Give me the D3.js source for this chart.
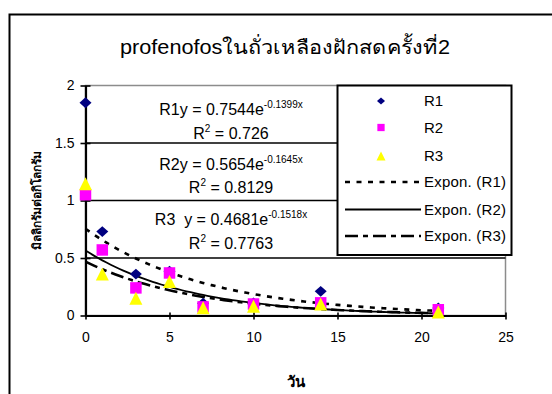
<!DOCTYPE html>
<html>
<head>
<meta charset="utf-8">
<script src="https://cdn.jsdelivr.net/npm/d3@7"></script>
<style>
  body { margin: 0; background: #fff; }
  text { font-family: "Liberation Sans", Arial, sans-serif; white-space: pre; }
</style>
</head>
<body>
<div id="chart"></div>
<script>
// values
var days = [0, 1, 3, 5, 7, 10, 14, 21]
var r1 = [1.85, 0.73, 0.36, 0.385, 0.107, 0.11, 0.21, 0.065]
var r2 = [1.05, 0.57, 0.24, 0.37, 0.075, 0.10, 0.11, 0.05]
var r3 = [1.145, 0.36, 0.15, 0.295, 0.067, 0.08, 0.10, 0.03]
var seriesNames = ['R1', 'R2', 'R3']
// exponential trendlines y = a * e^(b x), as printed on the chart
var trendA = [0.7544, 0.5654, 0.4681]
var trendB = [-0.1399, -0.1645, -0.1518]
var trendR2 = ['0.726', '0.8129', '0.7763']
var xTicks = [0, 5, 10, 15, 20, 25]
var yTicks = [0, 0.5, 1, 1.5, 2]

var W = 552, H = 394
var svg = d3.select('#chart').append('svg')
    .attr('width', W).attr('height', H)

// outer frame
svg.append('rect')
    .attr('x', 9.5).attr('y', 14.5)
    .attr('width', 600).attr('height', 400)
    .attr('fill', '#fff').attr('stroke', '#000').attr('stroke-width', 2)

svg.append('text')
    .attr('x', 120).attr('y', 54)
    .attr('font-size', 19.5)
    .attr('textLength', 330)
    .attr('lengthAdjust', 'spacingAndGlyphs')
    .text('profenofosในถั่วเหลืองฝักสดครั้งที่2')

var plotL = 85.5, plotR = 505.5, plotT = 85.5, plotB = 315.5
var x = d3.scaleLinear().domain([0, 25]).range([plotL, plotR])
var y = d3.scaleLinear().domain([0, 2]).range([plotB, plotT])

// plot area border
svg.append('rect')
    .attr('x', plotL).attr('y', plotT)
    .attr('width', plotR - plotL).attr('height', plotB - plotT)
    .attr('fill', '#fff').attr('stroke', '#8c8c8c').attr('stroke-width', 1.5)

// gridlines
svg.append('g').selectAll('line')
    .data(yTicks.filter(d => d > 0 && d < 2))
    .enter().append('line')
    .attr('x1', plotL).attr('x2', plotR)
    .attr('y1', d => y(d)).attr('y2', d => y(d))
    .attr('stroke', '#000').attr('stroke-width', 1.6)

// axes
var xAxis = svg.append('g')
    .attr('transform', `translate(0, ${plotB})`)
    .call(d3.axisBottom(x).tickValues(xTicks).tickSize(4).tickSizeOuter(0).tickPadding(13))
var yAxis = svg.append('g')
    .attr('transform', `translate(${plotL}, 0)`)
    .call(d3.axisLeft(y).tickValues(yTicks).tickSize(5).tickSizeOuter(0).tickPadding(6).tickFormat(d3.format('')))
;[xAxis, yAxis].forEach(function (g) {
    g.select('.domain').attr('stroke', '#000').attr('stroke-width', 2.2)
    g.selectAll('.tick line').attr('stroke', '#000').attr('stroke-width', 1.6)
    g.selectAll('.tick text')
        .attr('font-family', '"Liberation Sans", Arial, sans-serif')
        .attr('font-size', 14).attr('fill', '#000')
})
xAxis.selectAll('.tick line').attr('y1', -3)
yAxis.selectAll('.tick line').attr('x1', 5)

// axis titles
svg.append('text')
    .attr('x', 296).attr('y', 387)
    .attr('text-anchor', 'middle')
    .attr('font-size', 15).attr('font-weight', 'bold')
    .text('วัน')
svg.append('text')
    .attr('transform', 'translate(41, 200) rotate(-90)')
    .attr('text-anchor', 'middle')
    .attr('font-size', 12).attr('font-weight', 'bold')
    .text('มิลลิกรัมต่อกิโลกรัม')

// trendline equations
var eqY = [115, 170, 225]
var eqY2 = [139, 193, 249]
var eqPrefix = ['R1y = ', 'R2y = ', 'R3  y = ']
eqY.forEach(function (yy, i) {
    var t = svg.append('text')
        .attr('x', 231).attr('y', yy)
        .attr('text-anchor', 'middle')
        .attr('font-size', 16)
    t.append('tspan').text(eqPrefix[i] + trendA[i] + 'e')
    t.append('tspan').attr('dy', -7).attr('font-size', 10).text(trendB[i] + 'x')
    var t2 = svg.append('text')
        .attr('x', 231).attr('y', eqY2[i])
        .attr('text-anchor', 'middle')
        .attr('font-size', 16)
    t2.append('tspan').text('R')
    t2.append('tspan').attr('dy', -7).attr('font-size', 10).text('2')
    t2.append('tspan').attr('dy', 7).text(' = ' + trendR2[i])
})

// trendlines
var trendStyle = [
    {dash: '5,6.5', width: 2.6},
    {dash: null, width: 1.8},
    {dash: '13,5,5,5', width: 2.6}
]
var trendX = d3.range(0, 21.01, 0.25)
var line = d3.line().x(d => x(d[0])).y(d => y(d[1]))
trendA.forEach(function (a, i) {
    svg.append('path')
        .attr('d', line(trendX.map(t => [t, a * Math.exp(trendB[i] * t)])))
        .attr('fill', 'none')
        .attr('stroke', '#000')
        .attr('stroke-width', trendStyle[i].width)
        .attr('stroke-dasharray', trendStyle[i].dash)
})

// marker shapes, size = (box width)^2
var diamond = {draw: function (c, size) {
    var s = Math.sqrt(size) / 2
    c.moveTo(0, -s * 0.9); c.lineTo(s, 0); c.lineTo(0, s * 0.9); c.lineTo(-s, 0); c.closePath()
}}
var square = {draw: function (c, size) {
    var s = Math.sqrt(size) / 2
    c.rect(-s, -s, 2 * s, 2 * s)
}}
var triangle = {draw: function (c, size) {
    var s = Math.sqrt(size) / 2
    c.moveTo(0, -s); c.lineTo(s, s); c.lineTo(-s, s); c.closePath()
}}
var markerColor = ['#000080', '#ff00ff', '#ffff00']
var markerSym = [diamond, square, triangle]
var markerSize = [144, 132, 169]
var legendSize = [64, 53, 81]
;[r1, r2, r3].forEach(function (vals, i) {
    svg.append('g').selectAll('path')
        .data(vals)
        .enter().append('path')
        .attr('transform', (d, j) => `translate(${x(days[j])}, ${y(d)})`)
        .attr('d', d3.symbol().type(markerSym[i]).size(markerSize[i]))
        .attr('fill', markerColor[i])
})

// legend
var lg = svg.append('g')
lg.append('rect')
    .attr('x', 337.5).attr('y', 85.5)
    .attr('width', 174).attr('height', 169.5)
    .attr('fill', '#fff').attr('stroke', '#000').attr('stroke-width', 2)
var rowY = [101, 127.5, 156, 182, 209.5, 236]
seriesNames.forEach(function (name, i) {
    lg.append('path')
        .attr('transform', `translate(381, ${rowY[i]})`)
        .attr('d', d3.symbol().type(markerSym[i]).size(legendSize[i]))
        .attr('fill', markerColor[i])
    lg.append('text')
        .attr('x', 424).attr('y', rowY[i] + 5)
        .attr('font-size', 15)
        .text(name)
    lg.append('line')
        .attr('x1', 345).attr('x2', 421)
        .attr('y1', rowY[i + 3]).attr('y2', rowY[i + 3])
        .attr('stroke', '#000')
        .attr('stroke-width', trendStyle[i].width)
        .attr('stroke-dasharray', trendStyle[i].dash)
    lg.append('text')
        .attr('x', 424).attr('y', rowY[i + 3] + 5)
        .attr('font-size', 15)
        .attr('textLength', 82)
        .text('Expon. (' + name + ')')
})
</script>
</body>
</html>
